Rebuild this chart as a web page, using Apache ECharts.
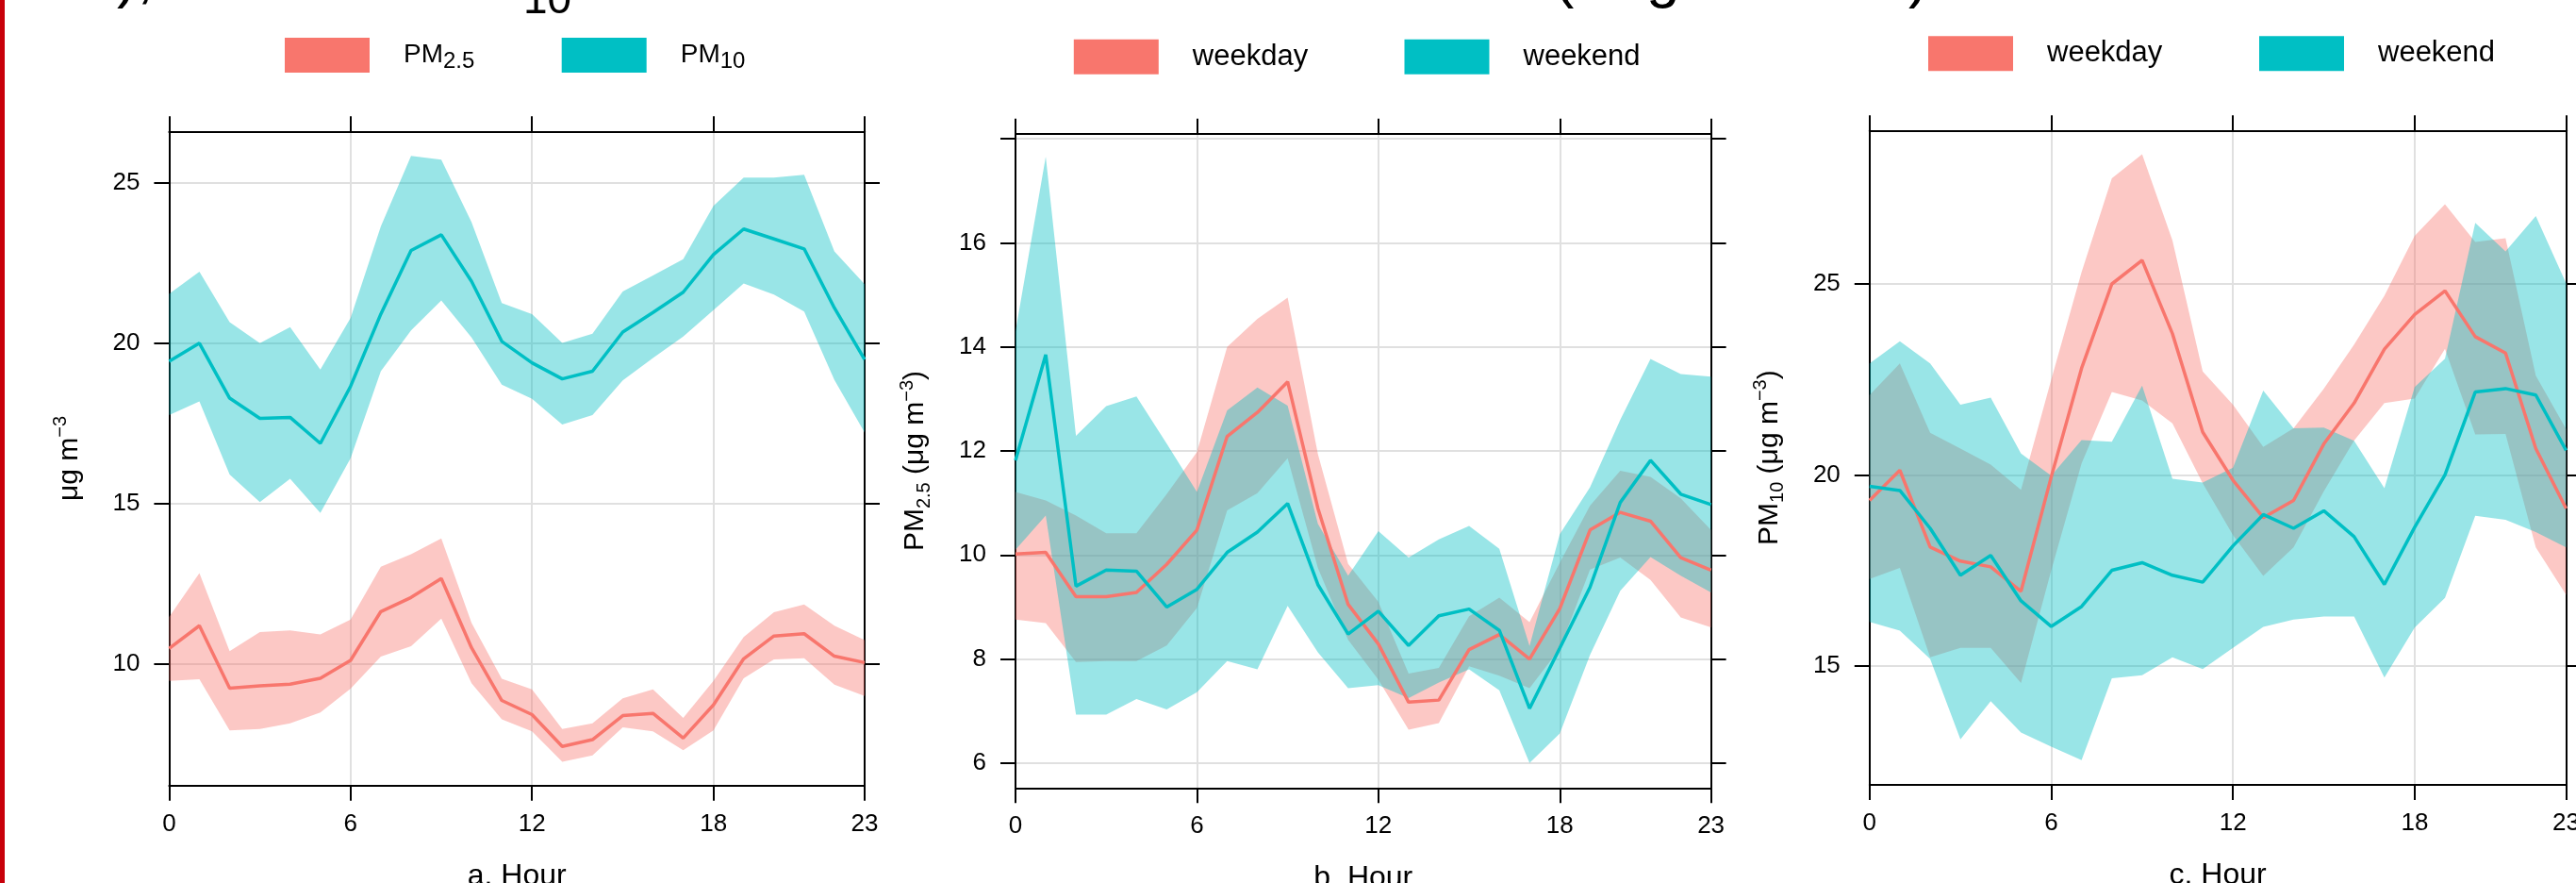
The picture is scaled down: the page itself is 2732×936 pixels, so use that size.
<!DOCTYPE html>
<html>
<head>
<meta charset="utf-8">
<script src="https://cdn.jsdelivr.net/npm/echarts@6/dist/echarts.min.js"></script>
<style>
  html, body { margin: 0; padding: 0; background: #fff; }
  #chart { width: 2732px; height: 936px; }
</style>
</head>
<body>
<div id="chart"></div>
<script>
// hours of the day (category axis)
const hours = ["0","1","2","3","4","5","6","7","8","9","10","11","12","13","14","15","16","17","18","19","20","21","22","23"];
const xTicks = [0, 6, 12, 18, 23];

// a. PM2.5 and PM10, all days (mean and 95% band)
const pm25Mean  = [10.49, 11.2, 9.25, 9.33, 9.38, 9.56, 10.12, 11.64, 12.08, 12.67, 10.51, 8.87, 8.43, 7.44, 7.65, 8.4, 8.47, 7.7, 8.73, 10.17, 10.88, 10.95, 10.25, 10.05];
const pm25Upper = [11.47, 12.84, 10.41, 11.0, 11.05, 10.93, 11.39, 13.04, 13.43, 13.92, 11.29, 9.55, 9.22, 7.98, 8.16, 8.94, 9.22, 8.33, 9.48, 10.85, 11.62, 11.86, 11.2, 10.75];
const pm25Lower = [9.48, 9.53, 7.94, 7.98, 8.16, 8.5, 9.24, 10.24, 10.56, 11.42, 9.41, 8.28, 7.91, 6.96, 7.16, 8.03, 7.91, 7.32, 7.94, 9.56, 10.15, 10.19, 9.36, 9.01];
const pm10Mean  = [19.44, 20.0, 18.29, 17.66, 17.69, 16.88, 18.66, 20.91, 22.89, 23.38, 21.93, 20.06, 19.39, 18.89, 19.13, 20.35, 20.96, 21.59, 22.76, 23.56, 23.25, 22.94, 21.1, 19.49];
const pm10Upper = [21.54, 22.23, 20.66, 20.0, 20.5, 19.18, 20.79, 23.64, 25.84, 25.72, 23.77, 21.25, 20.91, 20.01, 20.3, 21.61, 22.11, 22.62, 24.28, 25.16, 25.16, 25.25, 22.86, 21.84];
const pm10Lower = [17.76, 18.19, 15.91, 15.05, 15.78, 14.71, 16.42, 19.13, 20.4, 21.33, 20.18, 18.71, 18.27, 17.47, 17.76, 18.84, 19.54, 20.21, 21.03, 21.86, 21.52, 20.99, 18.86, 17.22];

// b. PM2.5 weekday / weekend
const bWeekdayMean  = [10.02, 10.05, 9.2, 9.2, 9.28, 9.82, 10.48, 12.28, 12.74, 13.33, 10.9, 9.05, 8.29, 7.17, 7.21, 8.18, 8.47, 8.0, 8.97, 10.48, 10.82, 10.65, 9.95, 9.71];
const bWeekdayUpper = [11.21, 11.05, 10.76, 10.42, 10.42, 11.17, 11.98, 14.0, 14.54, 14.95, 11.94, 9.83, 9.1, 7.72, 7.83, 8.82, 9.18, 8.71, 9.85, 10.95, 11.62, 11.5, 11.09, 10.48];
const bWeekdayLower = [8.76, 8.69, 7.94, 7.96, 7.96, 8.26, 8.98, 10.86, 11.19, 11.86, 9.75, 8.37, 7.6, 6.64, 6.77, 7.86, 7.68, 7.44, 8.2, 9.72, 9.95, 9.52, 8.8, 8.61];
const bWeekendMean  = [11.82, 13.85, 9.4, 9.71, 9.69, 9.0, 9.34, 10.05, 10.44, 10.99, 9.43, 8.48, 8.92, 8.26, 8.83, 8.96, 8.55, 7.05, 8.21, 9.38, 11.01, 11.82, 11.17, 10.97];
const bWeekendUpper = [14.3, 17.66, 12.29, 12.86, 13.05, 12.14, 11.21, 12.78, 13.22, 12.87, 10.6, 9.6, 10.46, 9.95, 10.3, 10.56, 10.12, 8.25, 10.4, 11.3, 12.6, 13.77, 13.48, 13.43];
const bWeekendLower = [10.1, 10.76, 6.93, 6.93, 7.23, 7.03, 7.36, 7.96, 7.8, 9.02, 8.13, 7.44, 7.5, 7.25, 7.55, 7.8, 7.4, 6.0, 6.57, 8.08, 9.31, 9.96, 9.6, 9.28];

// c. PM10 weekday / weekend
const cWeekdayMean  = [19.33, 20.12, 18.11, 17.74, 17.59, 16.95, 19.95, 22.79, 25.0, 25.62, 23.7, 21.12, 19.86, 18.88, 19.33, 20.81, 21.88, 23.29, 24.2, 24.82, 23.62, 23.19, 20.69, 19.12];
const cWeekdayUpper = [22.09, 22.92, 21.1, 20.69, 20.27, 19.61, 22.5, 25.31, 27.77, 28.4, 26.14, 22.71, 21.84, 20.73, 21.22, 22.26, 23.41, 24.69, 26.26, 27.09, 26.1, 26.2, 22.6, 21.2];
const cWeekdayLower = [17.27, 17.56, 15.22, 15.47, 15.47, 14.55, 17.5, 20.3, 22.17, 21.95, 21.35, 19.78, 18.42, 17.35, 18.1, 19.57, 20.9, 21.88, 22.0, 23.3, 21.06, 21.07, 18.1, 16.86];
const cWeekendMean  = [19.7, 19.59, 18.6, 17.37, 17.89, 16.7, 16.03, 16.55, 17.5, 17.7, 17.37, 17.19, 18.14, 18.96, 18.6, 19.06, 18.38, 17.13, 18.63, 20.0, 22.17, 22.26, 22.09, 20.64];
const cWeekendUpper = [22.92, 23.5, 22.92, 21.84, 22.02, 20.56, 19.98, 20.91, 20.87, 22.34, 19.9, 19.8, 20.19, 22.21, 21.22, 21.24, 20.89, 19.65, 22.3, 23.04, 26.6, 25.85, 26.78, 25.02];
const cWeekendLower = [16.15, 15.92, 15.18, 13.07, 14.07, 13.25, 12.88, 12.53, 14.67, 14.75, 15.22, 14.91, 15.47, 16.02, 16.21, 16.29, 16.29, 14.69, 16.0, 16.78, 18.93, 18.82, 18.5, 18.1];

// y tick values
const aTicks = [10, 15, 20, 25];
const bTicks = [6, 8, 10, 12, 14, 16, 18];
const bLabels = [6, 8, 10, 12, 14, 16];
const cTicks = [15, 20, 25];

const PINK = "#F8766D";
const TEAL = "#00BFC4";
const GRIDLINE = "#e0e0e0";
const FONT = "'Liberation Sans', Arial, sans-serif";

const showHour = (idx) => xTicks.indexOf(idx) !== -1;
const black = { color: "#000", width: 2 };

function xAxes(gi, name) {
  return [
    {
      gridIndex: gi, type: "category", data: hours, boundaryGap: false, position: "bottom",
      axisLine: { show: true, onZero: false, lineStyle: black },
      axisTick: { show: true, length: 16, interval: showHour, lineStyle: black },
      axisLabel: { show: true, interval: showHour, margin: 28, fontSize: 26, color: "#000" },
      splitLine: { show: true, interval: showHour, lineStyle: { color: GRIDLINE, width: 2 } },
      name: name, nameLocation: "middle", nameGap: 80,
      nameTextStyle: { fontSize: 32, color: "#000" },
    },
    {
      gridIndex: gi, type: "category", data: hours, boundaryGap: false, position: "top",
      axisLine: { show: true, onZero: false, lineStyle: black },
      axisTick: { show: true, length: 16, interval: showHour, lineStyle: black },
      axisLabel: { show: false },
      splitLine: { show: false },
    },
  ];
}

const nameRich = {
  t: { fontSize: 30, lineHeight: 38, color: "#000" },
  sub: { fontSize: 20, lineHeight: 20, verticalAlign: "bottom", color: "#000" },
  sup: { fontSize: 20, lineHeight: 20, verticalAlign: "top", color: "#000" },
};

function yAxes(gi, min, max, ticks, labels, name) {
  return [
    {
      gridIndex: gi, type: "value", min: min, max: max, position: "left",
      axisLine: { show: true, onZero: false, lineStyle: black },
      axisTick: { show: true, length: 16, customValues: ticks, lineStyle: black },
      axisLabel: { show: true, customValues: labels, margin: 31, fontSize: 26, color: "#000" },
      splitLine: { show: true, lineStyle: { color: GRIDLINE, width: 2 } },
      name: name, nameLocation: "middle", nameGap: 87, nameMoveOverlap: false,
      nameTextStyle: { fontSize: 30, color: "#000", rich: nameRich },
    },
    {
      gridIndex: gi, type: "value", min: min, max: max, position: "right",
      axisLine: { show: true, onZero: false, lineStyle: black },
      axisTick: { show: true, length: 16, customValues: ticks, lineStyle: black },
      axisLabel: { show: false },
      splitLine: { show: false },
    },
  ];
}

// band = invisible lower line + stacked (upper - lower) area
function band(gi, lower, upper, color, key) {
  const diff = upper.map((u, k) => +(u - lower[k]).toFixed(3));
  const common = {
    type: "line", xAxisIndex: gi * 2, yAxisIndex: gi * 2, stack: key,
    symbol: "none", silent: true, lineStyle: { width: 0, opacity: 0 },
  };
  return [
    Object.assign({ data: lower }, common),
    Object.assign({ data: diff, areaStyle: { color: color, opacity: 0.4 } }, common),
  ];
}

function meanLine(gi, name, data, color) {
  return {
    type: "line", name: name, xAxisIndex: gi * 2, yAxisIndex: gi * 2, data: data,
    symbol: "none", itemStyle: { color: color }, lineStyle: { color: color, width: 3.5 },
  };
}

function legendItem(left, top, name, color, fontSize) {
  return {
    left: left, top: top, padding: 0, itemWidth: 90, itemHeight: 37, icon: "rect",
    selectedMode: false,
    data: [{ name: name, itemStyle: { color: color } }],
    formatter: (n) => {
      if (n === "PM2.5") return "{m|PM}{s|2.5}";
      if (n === "PM10") return "{m|PM}{s|10}";
      return n;
    },
    textStyle: {
      fontSize: fontSize, color: "#000", padding: [0, 0, 0, 31],
      rich: {
        m: { fontSize: 28, lineHeight: 38, color: "#000" },
        s: { fontSize: 24, lineHeight: 24, verticalAlign: "bottom", color: "#000" },
      },
    },
  };
}

// pieces of the figure title that is cut off above the picture
function titleBit(x, y, text, size) {
  return {
    type: "text", x: x, y: y,
    style: { text: text, fontSize: size, fontFamily: FONT, fill: "#000", align: "left", verticalAlign: "middle" },
  };
}

const chart = echarts.init(document.getElementById("chart"));

const option = {
  animation: false,
  backgroundColor: "#fff",
  textStyle: { fontFamily: FONT },
  grid: [
    { left: 179.4, top: 139.3, width: 737.6, height: 693.4, outerBoundsMode: "none" },
    { left: 1077, top: 141.7, width: 737.6, height: 693.6, outerBoundsMode: "none" },
    { left: 1982.8, top: 138.3, width: 738.7, height: 693.7, outerBoundsMode: "none" },
  ],
  xAxis: [].concat(xAxes(0, "a. Hour"), xAxes(1, "b. Hour"), xAxes(2, "c. Hour")),
  yAxis: [].concat(
    yAxes(0, 6.22, 26.6, aTicks, aTicks, "{t|μg m}{sup|−3}"),
    yAxes(1, 5.52, 18.1, bTicks, bLabels, "{t|PM}{sub|2.5}{t| (μg m}{sup|−3}{t|)}"),
    yAxes(2, 11.88, 29.02, cTicks, cTicks, "{t|PM}{sub|10}{t| (μg m}{sup|−3}{t|)}")
  ),
  legend: [
    legendItem(302, 40, "PM2.5", PINK, 28),
    legendItem(595.7, 40, "PM10", TEAL, 28),
    legendItem(1138.8, 41.7, "weekday", PINK, 31),
    legendItem(1489.5, 41.7, "weekend", TEAL, 31),
    legendItem(2045, 38.3, "weekday", PINK, 31),
    legendItem(2396, 38.3, "weekend", TEAL, 31),
  ],
  graphic: [
    { type: "rect", shape: { x: 0, y: 0, width: 5, height: 936 }, style: { fill: "#c8000a" } },
    titleBit(124, -22, "),", 64),
    titleBit(555, 1, "10", 46),
    titleBit(1648, -22, "(", 64),
    titleBit(1746, -22, "g", 64),
    titleBit(2024, -22, ")", 64),
  ],
  series: [].concat(
    band(0, pm25Lower, pm25Upper, PINK, "a25"),
    [meanLine(0, "PM2.5", pm25Mean, PINK)],
    band(0, pm10Lower, pm10Upper, TEAL, "a10"),
    [meanLine(0, "PM10", pm10Mean, TEAL)],

    band(1, bWeekdayLower, bWeekdayUpper, PINK, "bwd"),
    [meanLine(1, "weekday", bWeekdayMean, PINK)],
    band(1, bWeekendLower, bWeekendUpper, TEAL, "bwe"),
    [meanLine(1, "weekend", bWeekendMean, TEAL)],

    band(2, cWeekdayLower, cWeekdayUpper, PINK, "cwd"),
    [meanLine(2, "weekday", cWeekdayMean, PINK)],
    band(2, cWeekendLower, cWeekendUpper, TEAL, "cwe"),
    [meanLine(2, "weekend", cWeekendMean, TEAL)]
  ),
};

chart.setOption(option);
</script>
</body>
</html>
